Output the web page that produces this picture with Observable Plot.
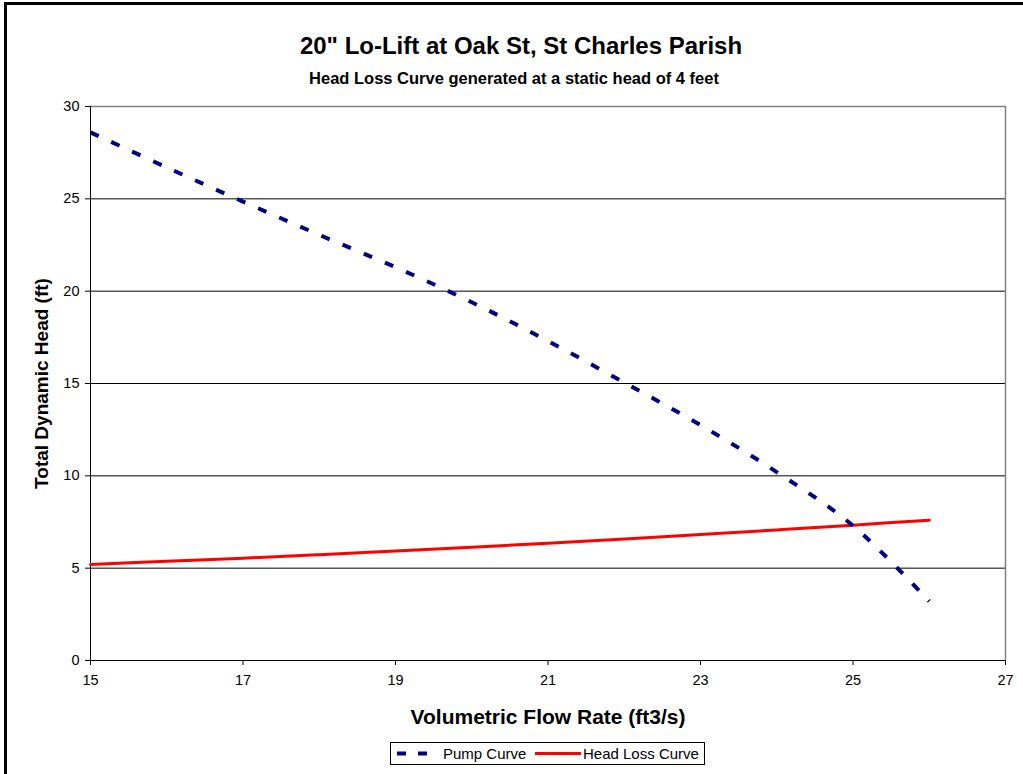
<!DOCTYPE html>
<html>
<head>
<meta charset="utf-8">
<script src="https://cdn.jsdelivr.net/npm/d3@7"></script>
<script src="https://cdn.jsdelivr.net/npm/@observablehq/plot@0.6"></script>
<style>
  html, body { margin: 0; padding: 0; background: #fff; overflow: hidden; }
  body { width: 1023px; height: 774px; position: relative; font-family: "Liberation Sans", Arial, sans-serif; }
  #frame { position: absolute; left: 4px; top: 2px; width: 1100px; height: 900px; border: 3px solid #000; box-sizing: border-box; pointer-events: none; }
  #title { position: absolute; left: 0; width: 1042px; top: 32px; text-align: center; font-size: 24px; font-weight: bold; color: #000; white-space: nowrap; }
  #subtitle { position: absolute; left: 0; width: 1028px; top: 69px; text-align: center; font-size: 16.5px; font-weight: bold; color: #000; white-space: nowrap; }
  #chart { position: absolute; left: 0; top: 96px; }
  #chart svg { overflow: visible; }
  #legend { position: absolute; left: 390px; top: 742px; width: 315px; height: 23px; border: 1px solid #000; box-sizing: border-box; font-size: 15px; }
  #legend > * { position: absolute; top: 0; }
  #legend span { line-height: 21px; }
</style>
</head>
<body>
<div id="title">20" Lo-Lift at Oak St, St Charles Parish</div>
<div id="subtitle">Head Loss Curve generated at a static head of 4 feet</div>
<div id="chart"></div>
<div id="legend"></div>
<div id="frame"></div>
<script>
// Data
const flowRate = [15, 16, 17, 18, 19, 20, 21, 22, 23, 24, 25, 26];
const pumpHead = [28.6, 26.7, 24.85, 23.05, 21.3, 19.4, 17.3, 15.05, 12.75, 10.2, 7.3, 3.2];
const lossHead = [5.2, 5.37, 5.54, 5.73, 5.93, 6.13, 6.35, 6.58, 6.82, 7.07, 7.33, 7.6];
const xTicks = [15, 17, 19, 21, 23, 25, 27];
const yTicks = [0, 5, 10, 15, 20, 25, 30];
const seriesNames = ["Pump Curve", "Head Loss Curve"];
const seriesColors = ["#000080", "#FF0000"];

const pumpData = flowRate.map((q, i) => ({q, h: pumpHead[i]}));
const lossData = flowRate.map((q, i) => ({q, h: lossHead[i]}));

const chart = Plot.plot({
  width: 1023,
  height: 634,
  marginLeft: 90,
  marginRight: 18,
  marginTop: 10,
  marginBottom: 70,
  style: {fontFamily: "'Liberation Sans', Arial, sans-serif", fontSize: "14px", color: "#000", background: "transparent"},
  x: {domain: [15, 27]},
  y: {domain: [0, 30]},
  marks: [
    Plot.ruleY(yTicks.filter(d => d > 0 && d < 30), {stroke: "#000", strokeWidth: 1}),
    Plot.ruleY([30], {stroke: "#808080", strokeWidth: 1.5}),
    Plot.ruleX([27], {stroke: "#808080", strokeWidth: 1.5}),
    Plot.ruleX([15], {stroke: "#000", strokeWidth: 1}),
    Plot.ruleY([0], {stroke: "#000", strokeWidth: 1}),
    Plot.axisX({ticks: xTicks, tickSize: 5, tickPadding: 9, tickFormat: d => String(d), label: null, ariaLabel: "xticks"}),
    Plot.axisX({ticks: [], label: "Volumetric Flow Rate (ft3/s)", labelAnchor: "center", labelArrow: "none", labelOffset: 63, fontSize: 21, fontWeight: "bold"}),
    Plot.axisY({ticks: yTicks, tickSize: 5, tickPadding: 6, tickFormat: d => String(d), label: null, ariaLabel: "yticks"}),
    Plot.axisY({ticks: [], label: "Total Dynamic Head (ft)", labelAnchor: "center", labelArrow: "none", labelOffset: 56, fontSize: 19, fontWeight: "bold"}),
    Plot.line(lossData, {x: "q", y: "h", stroke: seriesColors[1], strokeWidth: 3, curve: "catmull-rom"}),
    Plot.line(pumpData, {x: "q", y: "h", stroke: seriesColors[0], strokeWidth: 4, strokeDasharray: "9,14", strokeLinecap: "butt", curve: "catmull-rom"})
  ]
});
document.getElementById("chart").appendChild(chart);
// enlarge tick labels (numbers only)
d3.select(chart).selectAll("text").each(function() {
  const t = this.textContent.trim();
  if (/^\d+$/.test(t)) {
    this.style.setProperty("font-size", "14.5px", "important");
    this.setAttribute("font-size", "14.5");
    this.style.fill = "#000";
  }
});

// Legend
const legend = document.getElementById("legend");
legend.innerHTML = `
  <svg width="44" height="21" style="left:2px"><line x1="4" x2="36" y1="10.5" y2="10.5" stroke="${seriesColors[0]}" stroke-width="4" stroke-dasharray="9,12"/></svg>
  <span style="left:52px">${seriesNames[0]}</span>
  <svg width="50" height="21" style="left:142px"><line x1="2" x2="48" y1="10.5" y2="10.5" stroke="${seriesColors[1]}" stroke-width="3"/></svg>
  <span style="left:192px">${seriesNames[1]}</span>`;
</script>
</body>
</html>
